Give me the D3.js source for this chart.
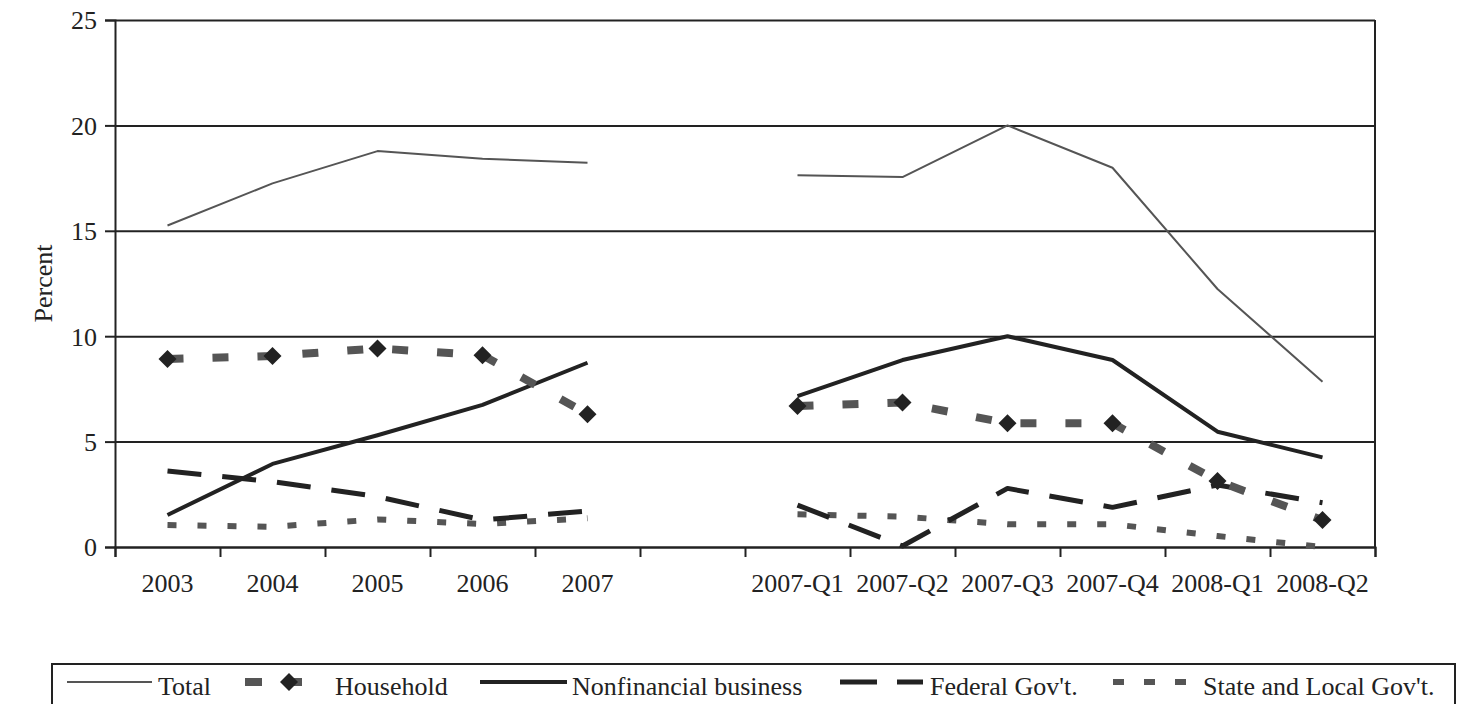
<!DOCTYPE html>
<html>
<head>
<meta charset="utf-8">
<script src="https://cdn.jsdelivr.net/npm/d3@7"></script>
<style>
  body { margin: 0; background: #fff; }
  svg text { font-family: "Liberation Serif", "Times New Roman", serif; font-size: 26px; fill: #222; }
</style>
</head>
<body>
<div id="chart-container"></div>
<script>
// categories (blank slot separates annual from quarterly data)
const categories = ["2003", "2004", "2005", "2006", "2007", "", "2007-Q1", "2007-Q2", "2007-Q3", "2007-Q4", "2008-Q1", "2008-Q2"];

const total = [15.25, 17.25, 18.78, 18.42, 18.23, null, 17.64, 17.55, 20.0, 17.99, 12.24, 7.84];
const household = [8.92, 9.06, 9.42, 9.1, 6.3, null, 6.69, 6.85, 5.87, 5.87, 3.13, 1.28];
const nonfinancial = [1.52, 3.94, 5.3, 6.74, 8.74, null, 7.16, 8.87, 10.0, 8.87, 5.47, 4.25];
const federal = [3.6, 3.1, 2.39, 1.28, 1.71, null, 1.99, 0.05, 2.78, 1.88, 2.94, 2.1];
const stateLocal = [1.04, 0.96, 1.31, 1.09, 1.36, null, 1.55, 1.44, 1.08, 1.08, 0.52, 0.0];

const yTicks = [0, 5, 10, 15, 20, 25];

let width = 1461;
let height = 704;
let plotLeft = 115, plotRight = 1375, plotTop = 20, plotBottom = 547;

var svg = d3
  .select("#chart-container")
  .append("svg")
  .attr("width", width)
  .attr("height", height);

let xScale = d3.scaleBand().domain(categories).range([plotLeft, plotRight]).padding(0);
let xEdge = d3.scaleLinear().domain([0, categories.length]).range([plotLeft, plotRight]);
let yScale = d3.scaleLinear().domain([0, 25]).range([plotBottom, plotTop]);

// gridlines
svg.append("g")
  .attr("transform", `translate(${plotLeft},0)`)
  .call(d3.axisLeft(yScale).tickValues(yTicks).tickSize(-(plotRight - plotLeft)).tickFormat(""))
  .call((g) => g.select(".domain").remove())
  .selectAll("line")
  .attr("stroke", "#222")
  .attr("stroke-width", 2);

// y axis with outside ticks
let yAxis = svg.append("g")
  .attr("transform", `translate(${plotLeft},0)`)
  .call(d3.axisLeft(yScale).tickValues(yTicks).tickSize(10).tickPadding(8));
yAxis.select(".domain").attr("stroke", "#222").attr("stroke-width", 2);
yAxis.selectAll("line").attr("stroke", "#222").attr("stroke-width", 2);
yAxis.selectAll("text").attr("fill", "#222").attr("dy", "0.34em");
yAxis.attr("font-size", null).attr("font-family", null);

// right frame
svg.append("line")
  .attr("x1", plotRight).attr("x2", plotRight)
  .attr("y1", yScale(25)).attr("y2", yScale(0))
  .attr("stroke", "#222").attr("stroke-width", 2);

// x axis ticks at category boundaries
let xTickAxis = svg.append("g")
  .attr("transform", `translate(0,${plotBottom})`)
  .call(d3.axisBottom(xEdge).tickValues(d3.range(categories.length + 1)).tickSize(10).tickFormat(""));
xTickAxis.select(".domain").attr("stroke", "#222").attr("stroke-width", 2);
xTickAxis.selectAll("line").attr("stroke", "#222").attr("stroke-width", 2);

// x labels at band centres
let xAxis = svg.append("g")
  .attr("transform", `translate(0,${plotBottom})`)
  .call(d3.axisBottom(xScale).tickSize(0));
xAxis.select(".domain").remove();
xAxis.attr("font-size", null).attr("font-family", null);
xAxis.selectAll("text").attr("fill", "#222").attr("y", 45).attr("dy", 0);

// y axis label
svg.append("text")
  .attr("transform", `translate(52,${(plotTop + plotBottom) / 2}) rotate(-90)`)
  .style("text-anchor", "middle")
  .text("Percent");

const cx = (i) => xScale(categories[i]) + xScale.bandwidth() / 2;
const line = d3.line()
  .defined((d) => d != null)
  .x((d, i) => cx(i))
  .y((d) => yScale(d));

const series = [
  { name: "Total", values: total, color: "#555", w: 2, dash: null, legDash: null },
  { name: "Household", values: household, color: "#555", w: 8, dash: "16,29", legDash: "17,23" },
  { name: "Nonfinancial business", values: nonfinancial, color: "#222", w: 4, dash: null, legDash: null },
  { name: "Federal Gov't.", values: federal, color: "#222", w: 5, dash: "34,21", legDash: "37,20" },
  { name: "State and Local Gov't.", values: stateLocal, color: "#555", w: 6, dash: "9,21", legDash: "11,20" },
];

const diamond = (x, y, r) => `M${x},${y - r}L${x + r},${y}L${x},${y + r}L${x - r},${y}Z`;

// draw order: household sits above the other lines
const drawOrder = [4, 3, 2, 0, 1];
drawOrder.forEach((k) => {
  let s = series[k];
  svg.append("path")
    .datum(s.values)
    .attr("d", line)
    .attr("fill", "none")
    .attr("stroke", s.color)
    .attr("stroke-width", s.w)
    .attr("stroke-dasharray", s.dash)
    .attr("stroke-linejoin", "round");
  if (s.name === "Household") {
    svg.append("g")
      .selectAll("path")
      .data(s.values.map((v, i) => ({ v, i })).filter((d) => d.v != null))
      .enter()
      .append("path")
      .attr("d", (d) => diamond(cx(d.i), yScale(d.v), 9))
      .attr("fill", "#222");
  }
});

// legend
svg.append("rect")
  .attr("x", 52).attr("y", 664)
  .attr("width", 1455 - 52).attr("height", 60)
  .attr("fill", "none").attr("stroke", "#222").attr("stroke-width", 2);

const legendY = 682;
const legendPos = [
  { x1: 67, x2: 152, tx: 158 },
  { x1: 245, x2: 307, tx: 335 },
  { x1: 480, x2: 567, tx: 572 },
  { x1: 840, x2: 923, tx: 930 },
  { x1: 1113, x2: 1186, tx: 1203 },
];

let lg = svg.append("g");
series.forEach((s, i) => {
  let p = legendPos[i];
  lg.append("line")
    .attr("x1", p.x1).attr("x2", p.x2)
    .attr("y1", legendY).attr("y2", legendY)
    .attr("stroke", s.color)
    .attr("stroke-width", s.w)
    .attr("stroke-dasharray", s.legDash);
  if (s.name === "Household") {
    lg.append("path").attr("d", diamond(289, legendY, 9)).attr("fill", "#222");
  }
  lg.append("text").attr("x", p.tx).attr("y", 695).text(s.name);
});
</script>
</body>
</html>
